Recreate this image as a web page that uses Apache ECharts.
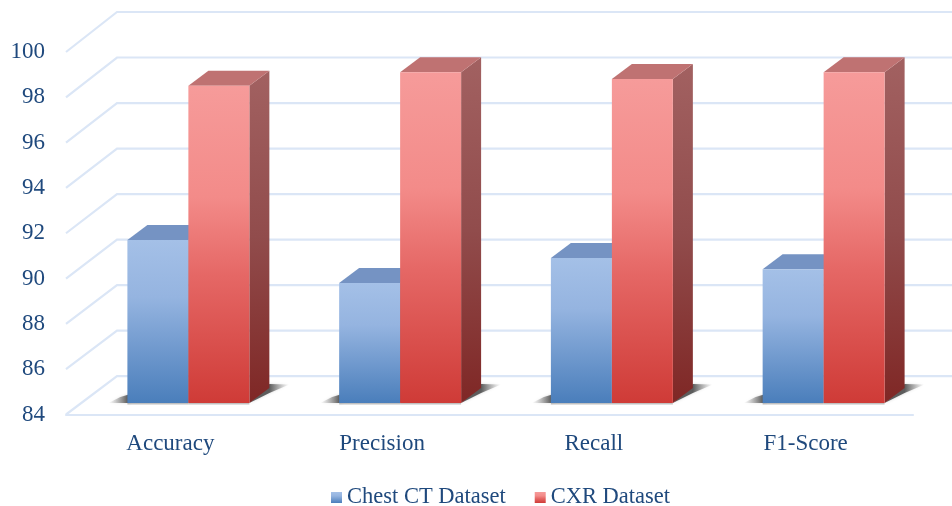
<!DOCTYPE html>
<html>
<head>
<meta charset="utf-8">
<style>html,body{margin:0;padding:0;background:#fff}#chart{width:952px;height:506px}</style>
<script src="https://cdn.jsdelivr.net/npm/echarts@6/dist/echarts.min.js"></script>
</head>
<body>
<div id="chart"></div>
<script>
// Classification metrics per dataset
const categories = ['Accuracy', 'Precision', 'Recall', 'F1-Score'];
const chestCT = [91.2, 89.3, 90.4, 89.9];
const cxr = [98.0, 98.6, 98.3, 98.6];
const ticks = [84, 86, 88, 90, 92, 94, 96, 98, 100];

const G = echarts.graphic.LinearGradient;
const vertical = stops => new G(0, 0, 0, 1, stops.map(s => ({ offset: s[0], color: s[1] })));

const blueFront = vertical([[0, '#a4c0e7'], [0.35, '#95b4e0'], [1, '#4a7ebb']]);
const redFront = vertical([[0, '#f69b9a'], [0.35, '#f38b89'], [0.6, '#e56765'], [1, '#cf3b37']]);
const blueSide = vertical([[0, '#6f8bb5'], [1, '#345a8c']]);
const redSide = vertical([[0, '#a26161'], [0.5, '#914c4c'], [1, '#7f2725']]);

// Oblique projection: depth of the back wall and of the bars' front plane
const WALL = { dx: 51, dy: -38.3, rise: 0.0047 };
const PLANE = { dx: 15, dy: -11.5 };
const DEPTH = { dx: 20, dy: -15 };

function wallItem(params, api) {
  const cs = params.coordSys;
  const y = api.coord([0, api.value(0)])[1];
  const floor = cs.y + cs.height;
  const x0 = cs.x, xb = cs.x + WALL.dx, yb = y + WALL.dy + (y - floor) * WALL.rise;
  return {
    type: 'polyline',
    shape: { points: [[x0, y], [xb, yb], [cs.x + cs.width + WALL.dx, yb]] },
    style: { stroke: '#dbe6f6', lineWidth: 2.2, fill: null }
  };
}

function barItem(opts) {
  return function (params, api) {
    const p = api.coord([api.value(0), api.value(1)]);
    const base = api.coord([api.value(0), 84]);
    const w = api.size([1, 0])[0] * 0.288;
    const cx = p[0] + 16.5;
    const x0 = opts.first ? cx - w : cx;
    const x1 = x0 + w;
    const yt = p[1] + PLANE.dy, yb = base[1] + PLANE.dy;
    const d = DEPTH;
    const soft = { shadowBlur: 3, shadowColor: 'rgba(130,130,130,0.4)' };
    const kids = [];
    if (opts.first) {
      kids.push({
        type: 'polygon',
        shape: { points: [[x0 - 19, yb], [x0 - 7, yb - 6], [x0 + 3, yb - 9], [x0 + 3, yb]] },
        style: Object.assign({
          fill: new G(1, 0, 0, 0, [{ offset: 0.12, color: 'rgba(60,60,60,0.8)' }, { offset: 1, color: 'rgba(140,140,140,0)' }])
        }, soft)
      });
    } else {
      kids.push({
        type: 'polygon',
        shape: { points: [[x1, yb], [x1 + d.dx, yb - 10], [x1 + 40, yb - 18.5], [x1 + d.dx, yb - 19]] },
        style: Object.assign({
          fill: new G(0, 0, 1, 0, [{ offset: 0.5, color: 'rgba(70,70,70,0.85)' }, { offset: 1, color: 'rgba(140,140,140,0)' }])
        }, soft)
      });
    }
    kids.push(
      { type: 'rect', shape: { x: x0, y: yb, width: w, height: 1.5 }, style: { fill: 'rgba(140,140,140,0.55)' } },
      { type: 'polygon', shape: { points: [[x1, yt], [x1 + d.dx, yt + d.dy], [x1 + d.dx, yb + d.dy], [x1, yb]] }, style: { fill: opts.side } },
      { type: 'polygon', shape: { points: [[x0, yt], [x0 + d.dx, yt + d.dy], [x1 + d.dx, yt + d.dy], [x1, yt]] }, style: { fill: opts.top } },
      { type: 'rect', shape: { x: x0, y: yt, width: w, height: yb - yt }, style: { fill: opts.front } }
    );
    return { type: 'group', children: kids };
  };
}

const font = '"Liberation Serif", serif';
const ink = '#1f497d';
const chart = echarts.init(document.getElementById('chart'));
chart.setOption({
  animation: false,
  backgroundColor: '#ffffff',
  grid: { left: 66, right: 39, top: 52, bottom: 91.5 },
  legend: {
    left: 326, top: 481,
    data: ['Chest CT Dataset', 'CXR Dataset'],
    icon: 'rect', itemWidth: 11, itemHeight: 11, itemGap: 29,
    selectedMode: false,
    textStyle: { fontFamily: font, fontSize: 22.5, color: ink }
  },
  xAxis: {
    type: 'category', data: categories,
    axisLine: { lineStyle: { color: '#dbe6f6', width: 2.2 } },
    axisTick: { show: false },
    axisLabel: { fontFamily: font, fontSize: 23, color: ink, margin: 18, padding: [0, 3, 0, 0] }
  },
  yAxis: {
    type: 'value', min: ticks[0], max: ticks[ticks.length - 1], interval: 2,
    axisLine: { show: false }, axisTick: { show: false }, splitLine: { show: false },
    axisLabel: { fontFamily: font, fontSize: 23, color: ink, margin: 21 }
  },
  series: [
    { type: 'custom', name: 'walls', silent: true, z: 1, renderItem: wallItem, encode: { y: 0 }, data: ticks.map(t => [t]) },
    {
      type: 'custom', name: 'Chest CT Dataset', z: 2, clip: false,
      itemStyle: { color: blueFront },
      renderItem: barItem({ first: true, front: blueFront, side: blueSide, top: '#7593c3' }),
      encode: { x: 0, y: 1 },
      data: chestCT.map((v, i) => [i, v])
    },
    {
      type: 'custom', name: 'CXR Dataset', z: 3, clip: false,
      itemStyle: { color: redFront },
      renderItem: barItem({ first: false, front: redFront, side: redSide, top: '#bf7272' }),
      encode: { x: 0, y: 1 },
      data: cxr.map((v, i) => [i, v])
    }
  ]
});
</script>
</body>
</html>
